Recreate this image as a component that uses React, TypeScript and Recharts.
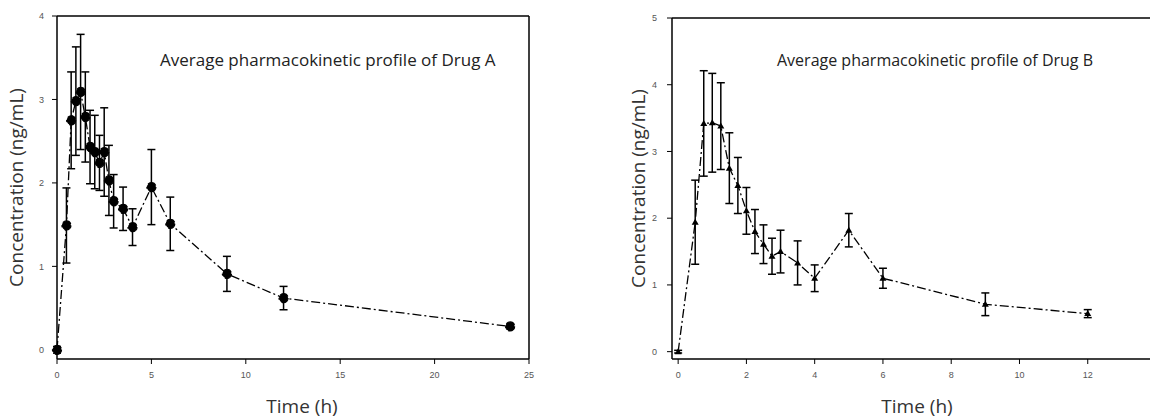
import React from 'react';
import { ComposedChart, Line, XAxis, YAxis, ErrorBar, Label, ReferenceLine } from 'recharts';

// Drug A: sampling times (h), mean concentration and SD (ng/mL)
const timeA = [0, 0.5, 0.75, 1, 1.25, 1.5, 1.75, 2, 2.25, 2.5, 2.75, 3, 3.5, 4, 5, 6, 9, 12, 24];
const concA = [0, 1.49, 2.75, 2.98, 3.09, 2.79, 2.43, 2.37, 2.24, 2.37, 2.03, 1.78, 1.69, 1.47, 1.95, 1.51, 0.91, 0.62, 0.28];
const sdA = [0.04, 0.45, 0.58, 0.65, 0.69, 0.54, 0.44, 0.44, 0.33, 0.53, 0.42, 0.32, 0.26, 0.22, 0.45, 0.32, 0.21, 0.14, 0.03];

// Drug B
const timeB = [0, 0.5, 0.75, 1, 1.25, 1.5, 1.75, 2, 2.25, 2.5, 2.75, 3, 3.5, 4, 5, 6, 9, 12];
const concB = [0, 1.94, 3.42, 3.43, 3.38, 2.75, 2.49, 2.11, 1.8, 1.61, 1.43, 1.5, 1.33, 1.1, 1.82, 1.1, 0.71, 0.57];
const sdB = [0.02, 0.63, 0.79, 0.74, 0.65, 0.53, 0.42, 0.35, 0.33, 0.29, 0.27, 0.32, 0.33, 0.2, 0.25, 0.15, 0.17, 0.06];

const ticksXA = [0, 5, 10, 15, 20, 25];
const ticksYA = [0, 1, 2, 3, 4];
const ticksXB = [0, 2, 4, 6, 8, 10, 12, 14];
const ticksYB = [0, 1, 2, 3, 4, 5];

const dataA = timeA.map((t, i) => ({ t, c: concA[i], sd: sdA[i] }));
const dataB = timeB.map((t, i) => ({ t, c: concB[i], sd: sdB[i] }));

const tickStyle = { fontSize: 9, fill: '#555', fontFamily: 'Liberation Sans, Arial, sans-serif' };
const axisLine = { stroke: '#000', strokeWidth: 1.5 };
const titleStyle = { fontFamily: 'Open Sans, sans-serif', fontSize: 19, fill: '#333' };
const noteStyle: React.CSSProperties = {
  position: 'absolute',
  fontFamily: 'Open Sans, sans-serif',
  lineHeight: '17px',
  color: '#222',
  whiteSpace: 'nowrap',
};

const Triangle = (props: any) => {
  const { cx, cy, index } = props;
  if (cx == null || cy == null) return <g key={index} />;
  return <path key={index} d={`M${cx},${cy - 3.5}L${cx + 3.5},${cy + 2.5}L${cx - 3.5},${cy + 2.5}Z`} fill="#000" />;
};

export default function App() {
  return (
    <div style={{ position: 'absolute', left: 0, top: 0, width: 1150, height: 418, overflow: 'hidden', background: '#fff' }}>
      <div style={{ position: 'absolute', left: 0, top: 0 }}>
        <ComposedChart width={560} height={418} data={dataA} margin={{ top: 16, right: 31, left: 0, bottom: 0 }}>
          <XAxis
            dataKey="t"
            type="number"
            domain={[0, 25]}
            ticks={ticksXA}
            height={59}
            axisLine={axisLine}
            tickLine={{ stroke: '#000' }}
            tickSize={5}
            tickMargin={8}
            tick={tickStyle}
          >
            <Label value="Time (h)" position="insideBottom" offset={5} dx={9} style={titleStyle} />
          </XAxis>
          <YAxis
            type="number"
            domain={[-0.11, 4]}
            ticks={ticksYA}
            width={57}
            axisLine={axisLine}
            tickLine={{ stroke: '#000' }}
            tickSize={5}
            tickMargin={8}
            tick={tickStyle}
          >
            <Label value="Concentration  (ng/mL)" angle={-90} position="insideLeft" offset={16} style={{ ...titleStyle, textAnchor: 'middle' }} />
          </YAxis>
          <ReferenceLine y={4} stroke="#000" strokeWidth={1.5} />
          <ReferenceLine x={25} stroke="#000" strokeWidth={1.5} />
          <Line
            dataKey="c"
            stroke="#000"
            strokeWidth={1.3}
            strokeDasharray="9 3 2 3"
            dot={{ r: 4.5, fill: '#000', stroke: '#000' }}
            isAnimationActive={false}
          >
            <ErrorBar dataKey="sd" direction="y" width={4} stroke="#000" strokeWidth={1.5} />
          </Line>
        </ComposedChart>
      </div>
      <div style={{ ...noteStyle, fontSize: 17, left: 160, top: 51 }}>Average pharmacokinetic profile of Drug A</div>

      <div style={{ position: 'absolute', left: 580, top: 0 }}>
        <ComposedChart width={590} height={418} data={dataB} margin={{ top: 18, right: 14, left: 0, bottom: 0 }}>
          <XAxis
            dataKey="t"
            type="number"
            domain={[-0.18, 14]}
            ticks={ticksXB}
            height={59}
            axisLine={axisLine}
            tickLine={{ stroke: '#000' }}
            tickSize={5}
            tickMargin={8}
            tick={tickStyle}
          >
            <Label value="Time (h)" position="insideBottom" offset={5} dx={3} style={titleStyle} />
          </XAxis>
          <YAxis
            type="number"
            domain={[-0.11, 5]}
            ticks={ticksYB}
            width={92}
            axisLine={axisLine}
            tickLine={{ stroke: '#000' }}
            tickSize={5}
            tickMargin={10}
            tick={tickStyle}
          >
            <Label value="Concentration  (ng/mL)" angle={-90} position="insideLeft" offset={58} style={{ ...titleStyle, textAnchor: 'middle' }} />
          </YAxis>
          <ReferenceLine y={5} stroke="#000" strokeWidth={1.5} />
          <ReferenceLine x={14} stroke="#000" strokeWidth={1.5} />
          <Line
            dataKey="c"
            stroke="#000"
            strokeWidth={1.3}
            strokeDasharray="9 3 2 3"
            dot={Triangle}
            isAnimationActive={false}
          >
            <ErrorBar dataKey="sd" direction="y" width={4} stroke="#000" strokeWidth={1.5} />
          </Line>
        </ComposedChart>
      </div>
      <div style={{ ...noteStyle, fontSize: 16, left: 777, top: 52 }}>Average pharmacokinetic profile of Drug B</div>
    </div>
  );
}
